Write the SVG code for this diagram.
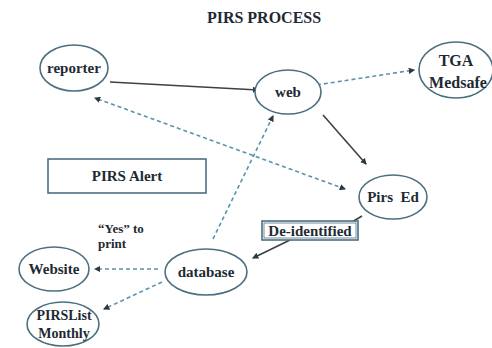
<svg xmlns="http://www.w3.org/2000/svg" width="492" height="348" viewBox="0 0 492 348">
<defs>
<style>
.node{fill:#ffffff;stroke:#4d6f80;stroke-width:1.6}
text{font-family:'Liberation Serif','Times New Roman','DejaVu Serif',serif;font-weight:bold;fill:#1e2a33;text-anchor:middle}
.solid{fill:none;stroke:#3a4248;stroke-width:1.6}
.dash{fill:none;stroke:#5a93ad;stroke-width:1.6;stroke-dasharray:4 3}
.box{fill:#ffffff;stroke:#4d6f80;stroke-width:1.6}
</style>
<marker id="ah" viewBox="0 0 6 6" refX="5" refY="3" markerWidth="4" markerHeight="4" orient="auto-start-reverse" markerUnits="strokeWidth">
<path d="M0,0 L6,3 L0,6 Z" fill="#2c3a44"/>
</marker>
</defs>
<rect width="492" height="348" fill="#ffffff"/>
<text x="264" y="23" font-size="16" font-family="Liberation Serif, serif">PIRS PROCESS</text>

<g id="connectors">
<line class="solid" x1="110" y1="82" x2="258" y2="90" marker-end="url(#ah)"/>
<line class="dash" x1="310" y1="86" x2="414" y2="70" marker-end="url(#ah)"/>
<line class="solid" x1="323" y1="115" x2="366" y2="164" marker-end="url(#ah)"/>
<line class="dash" x1="345" y1="189" x2="95" y2="98" marker-start="url(#ah)" marker-end="url(#ah)"/>
<line class="dash" x1="213" y1="239" x2="273" y2="116" marker-end="url(#ah)"/>
<line class="solid" x1="362" y1="216" x2="352" y2="222"/>
<line class="solid" x1="290" y1="240" x2="253" y2="258" marker-end="url(#ah)"/>
<line class="dash" x1="158" y1="269" x2="95" y2="269" marker-end="url(#ah)"/>
<line class="dash" x1="162" y1="282" x2="104" y2="309" marker-end="url(#ah)"/>
</g>

<g font-family="Liberation Serif, serif">
<g id="reporter"><ellipse class="node" cx="74" cy="68" rx="34" ry="23"/><text x="74" y="73" font-size="15">reporter</text></g>
<g id="web"><ellipse class="node" cx="288" cy="92" rx="33" ry="22"/><text x="288" y="97" font-size="15">web</text></g>
<g id="tga"><ellipse class="node" cx="456" cy="70" rx="37" ry="28"/><text x="456" y="66" font-size="16">TGA</text><text x="458" y="88" font-size="16">Medsafe</text></g>
<g id="pirsed"><ellipse class="node" cx="393" cy="197" rx="34" ry="22"/><text x="393" y="202" font-size="15" xml:space="preserve">Pirs  Ed</text></g>
<g id="deidentified"><rect class="box" x="262" y="221" width="96" height="19"/><rect x="264" y="223" width="92" height="15" fill="none" stroke="#4d6f80" stroke-width="0.8"/><text x="310" y="236" font-size="15">De-identified</text></g>
<g id="database"><ellipse class="node" cx="206" cy="272" rx="41" ry="23"/><text x="206" y="277" font-size="15">database</text></g>
<g id="website"><ellipse class="node" cx="54" cy="269" rx="35" ry="22"/><text x="54" y="274" font-size="15">Website</text></g>
<g id="pirslist"><ellipse class="node" cx="63" cy="324" rx="36" ry="22"/><text x="64" y="320" font-size="14">PIRSList</text><text x="64" y="338" font-size="14">Monthly</text></g>
<g id="pirsalert"><rect class="box" x="48" y="159" width="158" height="34"/><text x="127" y="181" font-size="15">PIRS Alert</text></g>
<g id="yesprint"><text x="98" y="233" font-size="13" style="text-anchor:start">“Yes” to</text><text x="98" y="248" font-size="13" style="text-anchor:start">print</text></g>
</g>
</svg>
